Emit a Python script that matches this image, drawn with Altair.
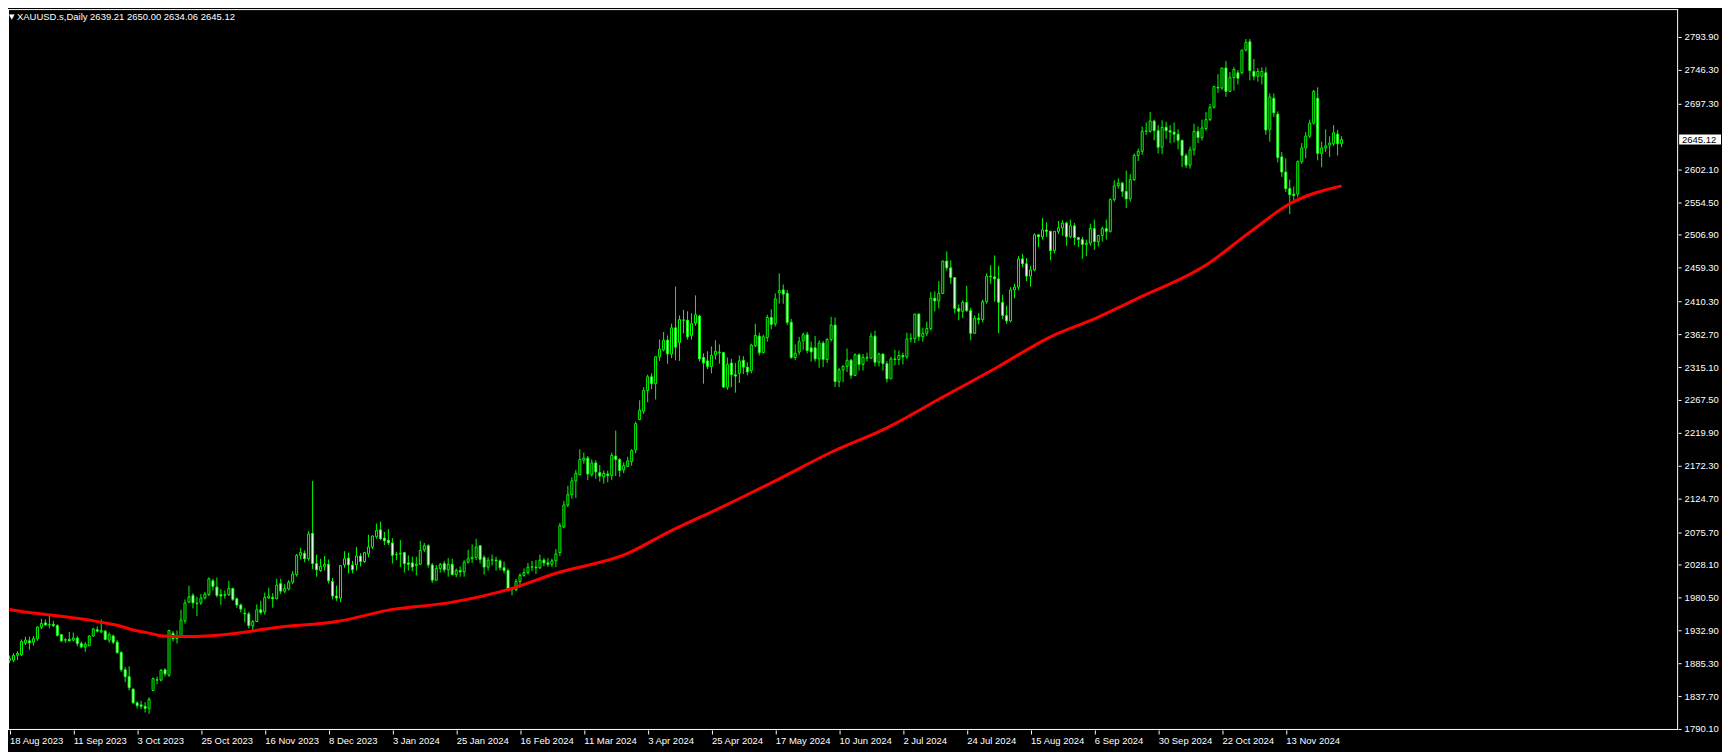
import altair as alt
import pandas as pd

# ---------------- data ----------------
OPEN = [1889.5,1890,1897,1898,1915,1918,1916,1921,1938,1944,1941,1942,1940,1927,1919,1920,1919,1922,1914,1909,
        1911,1925,1934,1931,1932,1919,1925,1916,1901,1876,1866,1848,1828,1825,1823,1820,1846,1861,1861,1876,
        1868,1929,1921,1924,1947,1974,1984,1972,1973,1980,1985,2005,1996,1985,1984,1985,1994,1979,1970,1958,
        1957,1940,1946,1963,1960,1980,1981,1979,2001,1990,1993,2003,2014,2042,2045,2037,2074,2030,2020,2026,
        2029,2004,1983,1980,2028,2038,2028,2028,2041,2033,2044,2054,2069,2079,2067,2064,2060,2043,2044,2046,
        2031,2031,2027,2029,2050,2056,2028,2006,2023,2030,2021,2029,2014,2020,2018,2032,2037,2039,2056,2039,
        2025,2035,2035,2034,2024,2020,1993,1992,2004,2013,2017,2025,2025,2024,2035,2031,2029,2034,2046,2083,
        2115,2130,2150,2159,2180,2183,2159,2176,2162,2156,2160,2158,2186,2181,2166,2171,2178,2195,2239,2251,
        2281,2301,2291,2330,2340,2354,2334,2372,2351,2383,2383,2361,2379,2389,2329,2324,2316,2333,2336,2336,
        2286,2321,2304,2306,2325,2315,2310,2346,2360,2336,2358,2387,2378,2423,2427,2422,2380,2329,2337,2353,
        2362,2343,2343,2327,2350,2326,2355,2376,2294,2311,2316,2325,2303,2333,2319,2329,2328,2360,2322,2334,
        2320,2298,2327,2326,2332,2330,2356,2356,2392,2359,2364,2371,2415,2411,2422,2469,2459,2445,2400,2396,
        2409,2397,2364,2386,2384,2410,2447,2446,2443,2409,2390,2382,2427,2431,2472,2465,2447,2456,2507,2504,
        2514,2512,2484,2512,2517,2524,2504,2520,2503,2500,2493,2495,2516,2497,2506,2516,2512,2558,2578,2582,
        2570,2559,2587,2622,2628,2657,2657,2672,2658,2634,2663,2658,2656,2653,2644,2622,2608,2630,2657,2648,
        2661,2674,2692,2721,2720,2749,2715,2735,2742,2742,2775,2787,2744,2737,2737,2742,2660,2705,2682,2620,
        2598,2574,2566,2566,2613,2633,2650,2669,2705,2625,2633,2637,2639,2653,2639.21]
HIGH = [1896.5,1900,1903,1920,1924,1924,1925,1939,1950,1949,1954,1947,1942,1928,1922,1931,1930,1925,1917,1916,
        1926,1937,1939,1949,1934,1930,1927,1919,1903,1880,1881,1849,1830,1831,1829,1836,1865,1866,1877,1878,
        1934,1932,1933,1963,1978,1998,1987,1982,1986,1989,2010,2008,2010,1993,1991,2005,1995,1981,1972,1965,
        1960,1948,1971,1976,1988,1995,1987,2008,2008,2000,2006,2019,2044,2053,2049,2077,2150,2043,2037,2041,
        2036,2009,1998,2028,2048,2046,2034,2054,2045,2047,2072,2071,2088,2091,2076,2080,2067,2047,2064,2047,
        2042,2040,2040,2063,2060,2058,2031,2028,2031,2034,2038,2037,2023,2026,2035,2050,2058,2066,2057,2042,
        2039,2043,2040,2036,2033,2023,1996,2008,2016,2023,2031,2034,2035,2043,2038,2038,2037,2051,2089,2121,
        2143,2155,2166,2196,2191,2186,2181,2180,2173,2165,2165,2191,2223,2183,2177,2185,2196,2236,2267,2286,
        2304,2306,2331,2355,2366,2361,2378,2432,2390,2398,2396,2393,2419,2391,2335,2338,2345,2354,2348,2337,
        2329,2327,2321,2332,2331,2322,2349,2378,2365,2362,2391,2399,2422,2451,2435,2427,2385,2348,2359,2365,
        2366,2352,2360,2354,2353,2357,2388,2387,2314,2318,2342,2327,2335,2335,2334,2336,2365,2368,2336,2335,
        2324,2330,2340,2339,2336,2365,2364,2392,2393,2372,2381,2424,2425,2440,2469,2483,2470,2445,2406,2412,
        2433,2401,2390,2393,2413,2451,2463,2477,2462,2420,2404,2431,2436,2476,2479,2473,2462,2509,2507,2531,
        2525,2513,2512,2527,2528,2526,2529,2524,2504,2504,2500,2523,2529,2507,2519,2529,2560,2586,2589,2584,
        2600,2595,2625,2632,2664,2670,2685,2674,2666,2673,2671,2666,2670,2660,2645,2625,2635,2668,2664,2674,
        2685,2697,2723,2740,2749,2759,2743,2750,2746,2775,2791,2791,2762,2749,2750,2750,2712,2712,2686,2627,
        2618,2587,2577,2615,2640,2656,2674,2717,2721,2642,2660,2650,2666,2659,2650.00]
LOW = [1885.5,1887,1890,1896,1912,1905,1911,1918,1935,1940,1936,1938,1924,1916,1915,1917,1917,1910,1907,1902,
       1910,1924,1930,1929,1919,1915,1913,1899,1873,1858,1846,1826,1820,1819,1814,1812,1845,1855,1859,1866,
       1866,1917,1914,1922,1943,1973,1965,1954,1970,1978,1983,1991,1981,1970,1979,1983,1976,1966,1959,1945,
       1936,1932,1945,1956,1956,1979,1966,1978,1986,1987,1991,2000,2011,2036,2032,2034,2022,2011,2018,2020,
       2001,1978,1976,1974,2024,2016,2016,2020,2026,2031,2039,2051,2066,2064,2057,2057,2030,2035,2025,2017,
       2020,2019,2013,2028,2047,2024,2002,2005,2017,2017,2011,2013,2010,2011,2011,2030,2031,2035,2030,2014,
       2020,2027,2020,2020,2016,1990,1984,1990,1995,2011,2014,2019,2015,2022,2026,2025,2025,2025,2041,2081,
       2112,2124,2125,2158,2175,2151,2156,2153,2149,2146,2148,2151,2157,2156,2161,2170,2172,2190,2238,2247,
       2264,2283,2268,2324,2338,2320,2328,2325,2324,2364,2355,2355,2375,2323,2291,2312,2306,2326,2320,2285,
       2282,2286,2278,2292,2305,2303,2306,2344,2332,2335,2352,2370,2374,2407,2407,2376,2327,2325,2333,2340,
       2335,2323,2323,2314,2315,2321,2352,2286,2286,2293,2308,2298,2302,2310,2310,2323,2327,2316,2316,2310,
       2293,2298,2318,2318,2319,2327,2351,2350,2353,2352,2360,2368,2396,2400,2421,2455,2436,2393,2383,2386,
       2395,2354,2364,2377,2380,2407,2436,2410,2364,2385,2378,2380,2415,2427,2460,2440,2432,2454,2489,2500,
       2504,2470,2480,2508,2506,2491,2502,2492,2489,2472,2476,2491,2485,2490,2497,2500,2510,2555,2574,2562,
       2546,2555,2585,2614,2623,2652,2655,2644,2625,2624,2646,2640,2641,2631,2605,2604,2603,2622,2640,2644,
       2658,2672,2690,2713,2717,2707,2714,2716,2725,2740,2773,2731,2731,2729,2725,2652,2642,2678,2612,2591,
       2569,2537,2554,2561,2610,2618,2647,2667,2615,2605,2627,2620,2636,2622,2634.06]
CLOSE = [1892,1897,1900,1917,1919,1915,1921,1938,1943,1941,1941.5,1940,1926,1918,1919.5,1918,1922,1914,1909,1913,
         1925,1935,1932,1933,1920,1927,1916,1901,1876,1866,1850,1828,1824,1823,1820,1833,1863,1861.5,1875,1870,
         1933,1921,1924,1948,1973,1982,1973,1972.5,1980,1986,2008,1997,1984,1983,1985,1994,1978,1970,1964,1957,
         1940,1946,1963,1959,1981,1983,1979,1999,1990,1994,2003,2015,2042,2046,2037,2073,2030,2021,2026,2029,
         2005,1983,1980,2027,2037,2028,2021,2041,2033,2046,2054,2070,2078,2066,2063,2060,2042,2043.5,2045,2030,
         2029,2025,2029,2049,2056,2028,2006,2023,2029,2021,2029,2014,2020,2018,2032,2037,2039,2054,2036,2025,
         2035,2035.5,2034,2024,2020,1993,1992,2004,2013,2017,2025,2025.5,2024,2035,2031,2029,2034,2044,2085,2115,
         2130,2150,2161,2181,2183,2160,2176,2163,2157,2161,2158,2187,2181,2165,2172,2179,2194,2233,2252.5,2281,
         2301,2291,2330,2341,2354,2334,2372,2344,2384,2383.5,2359,2378,2391,2327,2321,2316,2332,2338,2337,2286,
         2319,2304,2302,2324,2315,2308,2347,2361,2336,2359,2387,2377,2414,2426,2421,2380,2329,2335,2352,2362,
         2339,2337,2327,2350,2326,2355,2376,2294,2311,2316,2325,2303,2333,2319,2329,2328,2360,2322,2334,2320,
         2298,2327,2326,2332,2330,2356,2356.5,2392,2359,2364,2371,2415,2411,2422,2469,2459,2445,2400,2396,2409,
         2397,2364,2386,2384,2410,2447,2446,2443,2409,2390,2382,2427,2431,2472,2465,2447,2456,2507,2504,2514,
         2512,2484,2512,2517,2524,2504,2520,2503,2500,2493,2495,2516,2497,2506,2516,2512,2558,2578,2582,2570,
         2559,2587,2622,2628,2657,2657.5,2672,2658,2634,2663,2658,2656,2653,2644,2622,2608,2630,2657,2648,2662,
         2674,2692,2722,2720,2749,2715,2735,2747,2734,2775,2786,2745,2737,2744,2744,2659,2707,2684,2619,2598,
         2574,2565,2564,2613,2633,2650,2669,2715,2625,2633,2636,2640,2655,2639,2645.12]

MA_BAR = [0, 4.5, 9.4, 14.4, 19.4, 24.4, 27.7, 31, 34.4, 38.6, 44.4, 49.4, 52, 68, 82, 96, 110, 126, 137,
          155, 165, 179, 193, 206, 220, 234, 248, 261, 272, 283, 300, 311, 321, 334]
MA_VAL = [1963.5, 1959.3, 1956.0, 1952.5, 1948.7, 1943.4, 1939.5, 1933.7, 1929.9, 1925.0, 1924.2, 1925.0, 1926.0,
          1937.9, 1945.9, 1963.6, 1973.0, 1994.0, 2016.0, 2044.7, 2075.0, 2113.0, 2153.0, 2191.5, 2227.0,
          2271.6, 2316.0, 2359.0, 2385.0, 2415.0, 2463.0, 2510.8, 2552.0, 2578.0]

DATE_LABELS = ["18 Aug 2023", "11 Sep 2023", "3 Oct 2023", "25 Oct 2023", "16 Nov 2023", "8 Dec 2023",
               "3 Jan 2024", "25 Jan 2024", "16 Feb 2024", "11 Mar 2024", "3 Apr 2024", "25 Apr 2024",
               "17 May 2024", "10 Jun 2024", "2 Jul 2024", "24 Jul 2024", "15 Aug 2024", "6 Sep 2024",
               "30 Sep 2024", "22 Oct 2024", "13 Nov 2024"]
DATE_BARS = [16 * k for k in range(len(DATE_LABELS))]

PRICE_TICKS = [1790.10, 1837.70, 1885.30, 1932.90, 1980.50, 2028.10, 2075.70, 2124.70, 2172.30, 2219.90,
               2267.50, 2315.10, 2362.70, 2410.30, 2459.30, 2506.90, 2554.50, 2602.10, 2697.30, 2746.30,
               2793.90]

TITLE = "XAUUSD.s,Daily  2639.21 2650.00 2634.06 2645.12"
LAST_PRICE = 2645.12

# ---------------- chart ----------------
W, H = 1675, 723
FONT = "Liberation Sans"
FS = 9.5
GREEN = "#00ff00"

df = pd.DataFrame({"i": list(range(len(CLOSE))), "o": OPEN, "h": HIGH, "l": LOW, "c": CLOSE})
ma = pd.DataFrame({"i": MA_BAR, "v": MA_VAL})

xs = alt.Scale(domain=[-0.375, 418.375], nice=False, zero=False)
ys = alt.Scale(domain=[1788.65, 2834.40], nice=False, zero=False)

label_arr = "[" + ",".join("'" + s + "'" for s in DATE_LABELS) + "]"
xaxis = alt.Axis(values=DATE_BARS, labelExpr=label_arr + "[round(datum.value/16)]", grid=False,
                 domain=False, ticks=True, tickColor="white", tickSize=4, labelAlign="left",
                 labelBaseline="top", labelColor="white", labelFont=FONT, labelFontSize=FS,
                 labelPadding=2, title=None, labelOverlap=False, labelFlush=False, labelBound=False)
yaxis = alt.Axis(orient="right", values=PRICE_TICKS, format=".2f", grid=False, domain=False, ticks=True,
                 tickColor="white", tickSize=3, labelColor="white", labelFont=FONT, labelFontSize=FS,
                 labelPadding=3, title=None, labelOverlap=False, labelFlush=False, labelBound=False)

X = lambda f: alt.X(f, scale=xs, axis=xaxis)
Y = lambda f: alt.Y(f, scale=ys, axis=yaxis)

base = alt.Chart(df)
wicks = base.mark_rule(color=GREEN, strokeWidth=1).encode(x=X("i:Q"), y=Y("l:Q"), y2="h:Q")
bodies = base.transform_calculate(x1="datum.i - 0.25", x2="datum.i + 0.25").mark_rect(
    stroke=GREEN, strokeWidth=1
).encode(
    x=X("x1:Q"), x2="x2:Q", y=Y("o:Q"), y2="c:Q",
    fill=alt.condition("datum.c >= datum.o", alt.value("#000000"), alt.value("#ffffff")),
)
ma_line = alt.Chart(ma).mark_line(color="#ff0000", strokeWidth=3, interpolate="monotone").encode(
    x=X("i:Q"), y=Y("v:Q"))

one = pd.DataFrame({"t": [TITLE], "p": [LAST_PRICE], "s": [f"{LAST_PRICE:.2f}"]})
frame = alt.Chart(one)
left_b = frame.mark_rule(color="white", strokeWidth=1).encode(x=alt.value(0.5), y=alt.value(0), y2=alt.value(H))
right_b = frame.mark_rule(color="white", strokeWidth=1).encode(x=alt.value(W - 0.5), y=alt.value(0), y2=alt.value(H))
top_b = frame.mark_rule(color="white", strokeWidth=1).encode(x=alt.value(0), x2=alt.value(W), y=alt.value(0.5))
bot_b = frame.mark_rule(color="white", strokeWidth=1).encode(x=alt.value(0), x2=alt.value(W), y=alt.value(H - 0.5))

tri = frame.mark_text(text="▼", font="DejaVu Sans", fontSize=7, color="white", align="left",
                      baseline="middle").encode(x=alt.value(1), y=alt.value(8))
title = frame.mark_text(font=FONT, fontSize=FS, color="white", align="left", baseline="middle").encode(
    x=alt.value(9), y=alt.value(8), text="t:N")
box = frame.mark_rect(fill="white", yOffset=-5, y2Offset=5).encode(
    x=alt.value(W + 1), x2=alt.value(W + 43), y=Y("p:Q"), y2="p:Q")
box_txt = frame.mark_text(font=FONT, fontSize=FS, color="black", align="center", baseline="middle").encode(
    x=alt.value(W + 21), y=Y("p:Q"), text="s:N")

chart = alt.layer(wicks, bodies, ma_line, left_b, right_b, top_b, bot_b, tri, title, box, box_txt).properties(
    width=W, height=H,
    padding={"left": 0, "top": 0, "right": 44, "bottom": 21},
    autosize=alt.AutoSizeParams(type="none"),
    background="#000000",
).configure_view(strokeWidth=0)

chart.save("out.html", embed_options={"renderer": "svg", "actions": False})
